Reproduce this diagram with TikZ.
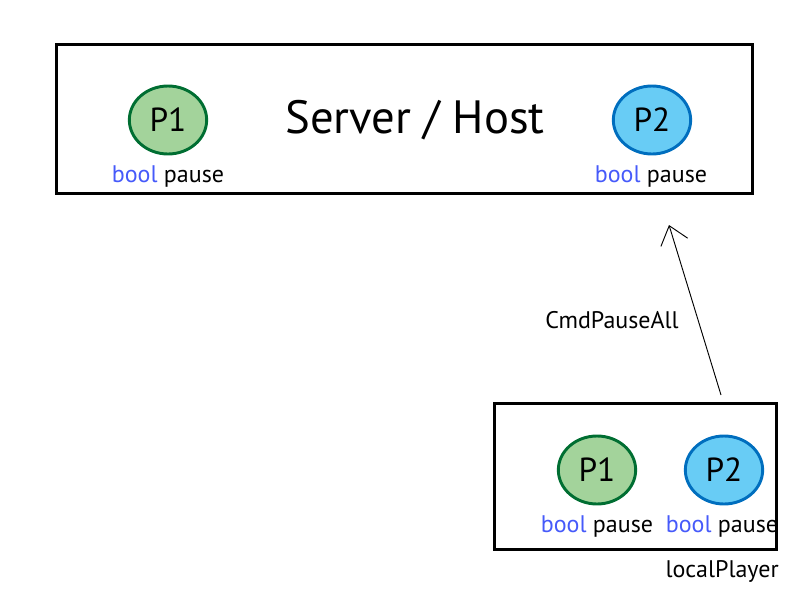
\documentclass[tikz,border=0pt]{standalone}
\usepackage{fontspec}
\setmainfont{PT Sans}
\usetikzlibrary{arrows.meta}
\definecolor{kwblue}{RGB}{70,90,250}
\definecolor{pgreen}{RGB}{0,110,50}
\definecolor{pgreenfill}{RGB}{163,211,155}
\definecolor{pblue}{RGB}{0,110,190}
\definecolor{pbluefill}{RGB}{104,204,245}
\tikzset{
  hostbox/.style={draw,line width=2.4pt,minimum width=522pt,minimum height=112pt},
  localbox/.style={draw,line width=2.2pt,minimum width=211pt,minimum height=109pt},
  greenplayer/.style={ellipse,draw=pgreen,fill=pgreenfill,line width=2.2pt,minimum width=58pt,minimum height=51pt,inner sep=0pt,font=\fontsize{25}{27}\selectfont},
  blueplayer/.style={ellipse,draw=pblue,fill=pbluefill,line width=2.2pt,minimum width=58pt,minimum height=51pt,inner sep=0pt,font=\fontsize{25}{27}\selectfont},
  flag/.style={font=\fontsize{18}{20}\selectfont,inner sep=0pt},
  cmdarrow/.style={line width=0.7pt,-{Straight Barb[length=13pt,width=21pt,line width=0.7pt]}}
}
\usetikzlibrary{shapes.geometric}
\newcommand{\pauseflag}{\textcolor{kwblue}{bool} pause}
\begin{document}
\begin{tikzpicture}[x=0.75pt,y=-0.75pt]
\useasboundingbox (0,0) rectangle (800,600);

\node[hostbox] (host) at (404.5,119) {};
\node[font=\fontsize{35}{37}\selectfont] (hostlabel) at (415,120) {Server / Host};
\node[greenplayer] (p1host) at (168,120) {P1};
\node[blueplayer] (p2host) at (652,120) {P2};
\node[flag] (f1host) at (168,176) {\pauseflag};
\node[flag] (f2host) at (651,176) {\pauseflag};

\node[localbox] (local) at (635.5,476.5) {};
\node[greenplayer] (p1local) at (597,470) {P1};
\node[blueplayer] (p2local) at (724,470) {P2};
\node[flag] (f1local) at (597,526) {\pauseflag};
\node[flag] (f2local) at (722,526) {\pauseflag};
\node[flag,anchor=east] (locallabel) at (779,571) {localPlayer};

\coordinate (cmdstart) at (721,395);
\coordinate (cmdend) at (669,225);
\draw[cmdarrow] (cmdstart) -- (cmdend);
\node[flag] (cmdlabel) at (612,320) {CmdPauseAll};
\end{tikzpicture}
\end{document}
